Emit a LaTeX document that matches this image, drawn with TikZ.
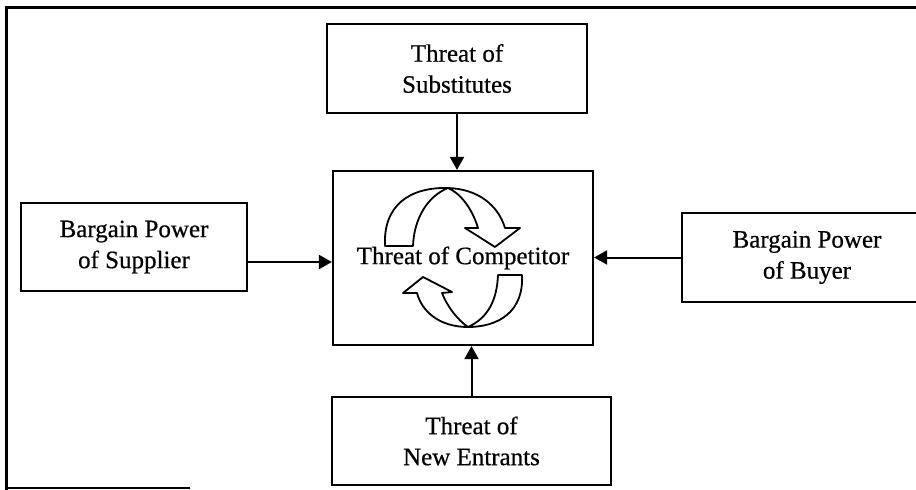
\documentclass[tikz,border=0pt]{standalone}
\usepackage{fontspec}
\setmainfont[FakeBold=0.6]{Liberation Serif}
\usetikzlibrary{arrows.meta}
\begin{document}
\begin{tikzpicture}[x=1pt,y=-1pt,
  box/.style={draw, line width=2.2pt, align=center, inner sep=0pt,
              font=\fontsize{25}{31}\selectfont},
  link/.style={line width=2pt, -{Triangle[length=13pt,width=14pt]}},
  cyc/.style={draw, fill=white, line width=1.8pt, line join=round}]
\useasboundingbox (0,0) rectangle (916,490);
\clip (0,0) rectangle (916,490);

% outer frame
\draw[line width=3pt] (916,7) -- (6,7) -- (6,490);
\draw[line width=2pt] (6,488) -- (190,488);

% circular arrows inside the competitor box
\path[cyc] (385,246) .. controls (383,205) and (410,187) .. (448,188)
  .. controls (478,189) and (498,205) .. (505,228)
  -- (520,228) -- (495,247) -- (465,228) -- (478,228)
  .. controls (472,208) and (460,193) .. (448,188)
  .. controls (428,196) and (414,218) .. (413,246) -- cycle;
\path[cyc] (522,275) .. controls (524,312) and (498,327) .. (468,327)
  .. controls (440,327) and (422,312) .. (417,293)
  -- (403,293) -- (423,277) -- (452,292) -- (442,293)
  .. controls (448,308) and (458,320) .. (468,327)
  .. controls (488,318) and (497,300) .. (498,275) -- cycle;

% forces
\node[box, minimum width=260pt, minimum height=89pt] (subs) at (457,68.5) {Threat of\\Substitutes};
\node[box, minimum width=226pt, minimum height=88pt] (supp) at (134,247) {Bargain Power\\of Supplier};
\node[box, minimum width=260pt, minimum height=174pt] (comp) at (463,258) {Threat of Competitor};
\node[box, minimum width=250pt, minimum height=89pt] (buyer) at (807,257.5) {Bargain Power\\of Buyer};
\node[box, minimum width=279pt, minimum height=88pt] (entr) at (471.5,441) {Threat of\\New Entrants};

% connectors
\coordinate (sa) at ([yshift=-15pt]supp.east);
\draw[link] (subs.south) -- (subs.south |- comp.north);
\draw[link] (sa) -- (sa -| comp.west);
\draw[link] (buyer.west) -- (buyer.west -| comp.east);
\draw[link] (entr.north) -- (entr.north |- comp.south);
\end{tikzpicture}
\end{document}
